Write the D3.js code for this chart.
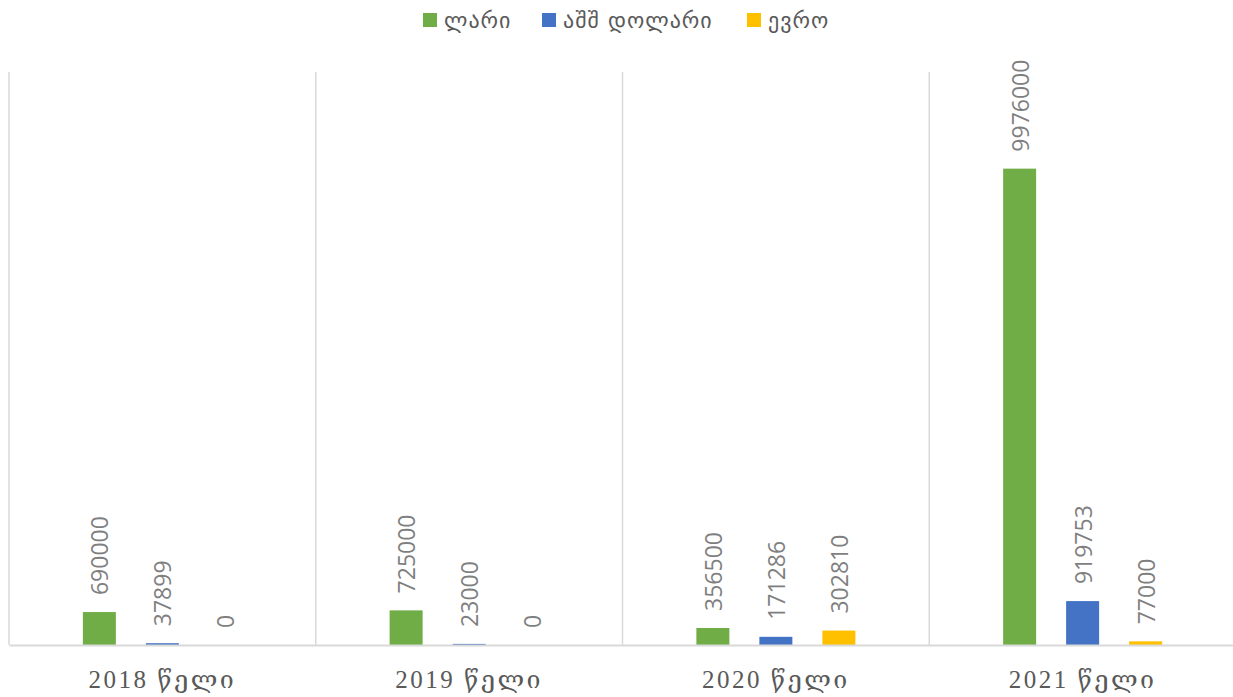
<!DOCTYPE html>
<html>
<head>
<meta charset="utf-8">
<script src="https://cdn.jsdelivr.net/npm/d3@7"></script>
<style>
  html, body { margin: 0; padding: 0; background: #ffffff; }
  svg { display: block; }
</style>
</head>
<body>
<div id="chart"></div>
<script>
// Yearly amounts by currency
const years = ["2018 წელი", "2019 წელი", "2020 წელი", "2021 წელი"];
const seriesNames = ["ლარი", "აშშ დოლარი", "ევრო"];
const lari = [690000, 725000, 356500, 9976000];
const usd = [37899, 23000, 171286, 919753];
const euro = [0, 0, 302810, 77000];
const colors = ["#70ad47", "#4472c4", "#ffc000"];
const yMax = 12000000;

const seriesValues = [lari, usd, euro];
const rows = years.map((y, i) => ({
  year: y,
  values: seriesNames.map((s, k) => ({ key: s, value: seriesValues[k][i], color: colors[k] }))
}));

const W = 1233, H = 697;
const plotLeft = 9, plotRight = 1236, plotTop = 72, plotBottom = 645;

const svg = d3.select("#chart").append("svg").attr("width", W).attr("height", H);

const x0 = d3.scaleBand().domain(years).range([plotLeft, plotRight]).paddingInner(0).paddingOuter(0);
const mid = x0.bandwidth() / 2;
const x1 = d3.scaleBand().domain(seriesNames).range([mid - 79.5, mid + 79.5]).paddingInner(30 / 63).paddingOuter(0);
const y = d3.scaleLinear().domain([0, yMax]).range([plotBottom, plotTop]);

// Vertical separators between categories
svg.append("g").selectAll("line")
  .data(years)
  .join("line")
  .attr("x1", d => x0(d)).attr("x2", d => x0(d))
  .attr("y1", plotTop).attr("y2", plotBottom)
  .attr("stroke", "#d9d9d9").attr("stroke-width", 1.5);

// Bars
const groups = svg.append("g").selectAll("g")
  .data(rows)
  .join("g")
  .attr("transform", d => `translate(${x0(d.year)},0)`);

groups.selectAll("rect")
  .data(d => d.values)
  .join("rect")
  .attr("x", d => x1(d.key))
  .attr("width", x1.bandwidth())
  .attr("y", d => y(d.value))
  .attr("height", d => plotBottom - y(d.value))
  .attr("fill", d => d.color);

// Value labels above bars, rotated
groups.selectAll("text")
  .data(d => d.values)
  .join("text")
  .attr("transform", d => `translate(${x1(d.key) + x1.bandwidth() / 2},${y(d.value) - 17}) rotate(-90)`)
  .attr("text-anchor", "start")
  .attr("dominant-baseline", "central")
  .attr("font-family", "'Open Sans', 'Liberation Sans', sans-serif")
  .attr("font-size", 23)
  .attr("fill", "#7f7f7f")
  .text(d => d.value);

// Baseline axis
const xAxis = d3.axisBottom(x0).tickSize(0).tickPadding(0);
const axisG = svg.append("g").attr("transform", `translate(0,${plotBottom})`).call(xAxis);
axisG.select(".domain").attr("stroke", "#d9d9d9").attr("stroke-width", 2);
axisG.selectAll(".tick text")
  .attr("y", 43)
  .attr("dy", 0)
  .attr("font-family", "'Liberation Serif', 'DejaVu Serif', serif")
  .attr("font-size", 25)
  .attr("letter-spacing", 2.5)
  .attr("fill", "#595959");

// Legend
const legendItems = [
  { name: seriesNames[0], color: colors[0], x: 423 },
  { name: seriesNames[1], color: colors[1], x: 542 },
  { name: seriesNames[2], color: colors[2], x: 747 }
];
const legend = svg.append("g").selectAll("g")
  .data(legendItems)
  .join("g")
  .attr("transform", d => `translate(${d.x},13)`);
legend.append("rect").attr("width", 14).attr("height", 14).attr("fill", d => d.color);
legend.append("text")
  .attr("x", 21).attr("y", 15)
  .attr("font-family", "'DejaVu Sans', 'Noto Sans', sans-serif")
  .attr("font-size", 22)
  .attr("letter-spacing", 1)
  .attr("fill", "#595959")
  .text(d => d.name);
</script>
</body>
</html>
